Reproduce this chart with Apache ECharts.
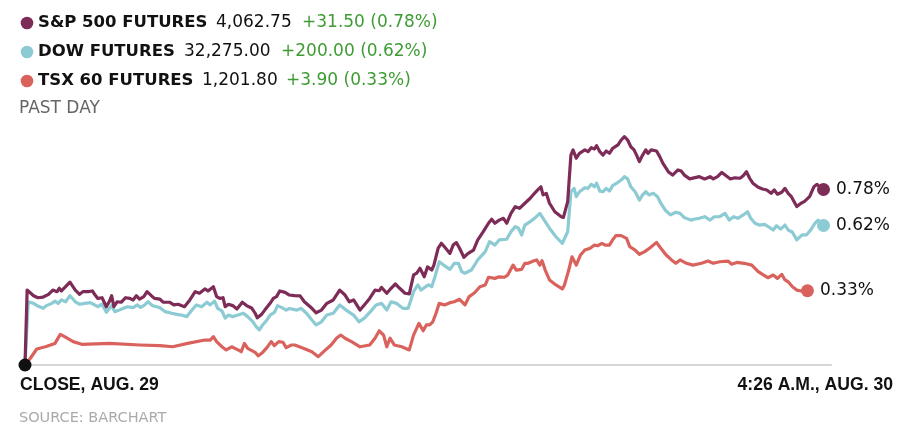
<!DOCTYPE html>
<html>
<head>
<meta charset="utf-8">
<script src="https://cdn.jsdelivr.net/npm/echarts@6/dist/echarts.min.js"></script>
<style>
  html, body { margin: 0; padding: 0; background: #fff; }
  #chart { width: 918px; height: 432px; }
</style>
</head>
<body>
<div id="chart"></div>
<script>
// legend rows
var names = ['S&P 500 FUTURES', 'DOW FUTURES', 'TSX 60 FUTURES'];
var prices = ['4,062.75', '32,275.00', '1,201.80'];
var changes = ['+31.50 (0.78%)', '+200.00 (0.62%)', '+3.90 (0.33%)'];
var colors = ['#7d2b57', '#8ccbd3', '#d9625d'];

var startLabel = 'CLOSE, AUG. 29';
var endLabel = '4:26 A.M., AUG. 30';

// [minutes after close, % change]
var spx = [[0,0],[2,0.333],[8,0.308],[12,0.299],[17,0.302],[22,0.314],[26,0.333],[30,0.326],[32,0.341],[34,0.329],[37,0.344],[42,0.368],[47,0.333],[51,0.314],[54,0.326],[59,0.326],[63,0.329],[65,0.314],[68,0.296],[72,0.299],[76,0.259],[79,0.284],[81,0.308],[83,0.259],[86,0.281],[90,0.279],[94,0.299],[98,0.296],[101,0.289],[104,0.308],[107,0.293],[111,0.304],[114,0.326],[118,0.308],[121,0.296],[126,0.293],[129,0.279],[135,0.279],[139,0.267],[143,0.270],[149,0.259],[154,0.289],[159,0.326],[163,0.319],[168,0.338],[171,0.329],[176,0.348],[179,0.304],[182,0.296],[185,0.299],[187,0.259],[190,0.270],[194,0.264],[198,0.249],[203,0.279],[207,0.264],[212,0.252],[215,0.230],[217,0.210],[221,0.225],[224,0.244],[229,0.274],[232,0.296],[235,0.304],[238,0.329],[243,0.323],[247,0.311],[252,0.308],[257,0.307],[261,0.281],[268,0.252],[272,0.232],[277,0.244],[282,0.274],[288,0.289],[294,0.333],[299,0.311],[303,0.281],[307,0.289],[313,0.244],[317,0.267],[322,0.296],[327,0.333],[331,0.330],[333,0.345],[338,0.319],[342,0.341],[346,0.360],[350,0.341],[355,0.319],[359,0.316],[363,0.400],[366,0.408],[369,0.430],[373,0.392],[376,0.436],[380,0.422],[382,0.444],[386,0.519],[389,0.541],[393,0.519],[397,0.496],[400,0.533],[403,0.544],[406,0.519],[410,0.479],[414,0.496],[419,0.511],[423,0.556],[428,0.592],[433,0.630],[436,0.648],[439,0.630],[443,0.644],[447,0.652],[450,0.630],[454,0.674],[458,0.704],[462,0.696],[467,0.719],[472,0.741],[476,0.763],[479,0.778],[482,0.792],[484,0.756],[487,0.763],[490,0.719],[495,0.681],[501,0.659],[503,0.656],[507,0.726],[510,0.933],[512,0.956],[515,0.919],[518,0.941],[523,0.956],[526,0.948],[529,0.966],[532,0.960],[534,0.975],[537,0.948],[540,0.933],[543,0.951],[546,0.941],[549,0.963],[554,0.978],[557,1.000],[560,1.015],[563,1.000],[566,0.970],[569,0.956],[572,0.926],[574,0.904],[577,0.933],[580,0.956],[582,0.941],[585,0.956],[590,0.951],[593,0.926],[596,0.896],[601,0.859],[605,0.844],[610,0.867],[613,0.862],[616,0.844],[621,0.827],[626,0.833],[630,0.837],[635,0.827],[640,0.837],[643,0.827],[647,0.837],[651,0.856],[655,0.841],[659,0.827],[663,0.832],[668,0.830],[671,0.841],[674,0.859],[677,0.830],[680,0.808],[685,0.790],[689,0.782],[693,0.778],[697,0.763],[700,0.778],[703,0.759],[707,0.768],[710,0.785],[713,0.763],[716,0.748],[721,0.704],[725,0.719],[728,0.726],[733,0.748],[737,0.792],[740,0.803],[744,0.785],[746,0.78]];

var dow = [[0,0],[3,0.281],[8,0.274],[12,0.262],[17,0.252],[20,0.264],[25,0.274],[28,0.284],[31,0.274],[34,0.289],[38,0.281],[42,0.308],[47,0.281],[51,0.270],[56,0.274],[61,0.277],[65,0.267],[68,0.259],[72,0.270],[76,0.234],[79,0.252],[81,0.264],[84,0.237],[88,0.244],[92,0.252],[96,0.259],[101,0.255],[105,0.267],[108,0.256],[111,0.264],[115,0.281],[119,0.264],[123,0.259],[126,0.255],[131,0.237],[137,0.230],[142,0.225],[146,0.222],[151,0.215],[156,0.244],[160,0.267],[165,0.259],[170,0.279],[173,0.267],[177,0.284],[180,0.252],[184,0.240],[187,0.208],[190,0.222],[194,0.215],[199,0.222],[204,0.230],[208,0.215],[213,0.192],[216,0.170],[219,0.156],[222,0.178],[226,0.200],[229,0.222],[233,0.234],[236,0.264],[240,0.255],[244,0.244],[247,0.251],[254,0.244],[258,0.252],[263,0.230],[268,0.200],[272,0.178],[277,0.192],[282,0.222],[288,0.230],[294,0.267],[300,0.244],[307,0.222],[312,0.192],[317,0.208],[324,0.244],[328,0.267],[333,0.274],[338,0.244],[342,0.281],[347,0.274],[353,0.252],[358,0.252],[363,0.326],[367,0.356],[370,0.333],[374,0.347],[377,0.356],[380,0.348],[383,0.392],[387,0.459],[391,0.444],[397,0.425],[401,0.452],[405,0.452],[408,0.415],[411,0.408],[417,0.422],[423,0.467],[430,0.504],[434,0.548],[439,0.533],[443,0.556],[450,0.559],[454,0.592],[458,0.615],[461,0.608],[464,0.578],[467,0.622],[472,0.637],[476,0.652],[481,0.674],[486,0.637],[490,0.608],[496,0.570],[502,0.541],[507,0.592],[510,0.770],[513,0.785],[515,0.748],[518,0.770],[523,0.788],[526,0.785],[529,0.803],[532,0.792],[534,0.808],[537,0.773],[540,0.770],[543,0.785],[546,0.773],[549,0.797],[554,0.812],[557,0.822],[560,0.837],[563,0.827],[566,0.792],[570,0.770],[574,0.733],[577,0.756],[580,0.770],[583,0.756],[587,0.763],[591,0.748],[594,0.719],[598,0.689],[603,0.667],[608,0.679],[612,0.674],[616,0.655],[622,0.644],[626,0.649],[630,0.652],[635,0.659],[640,0.644],[644,0.659],[649,0.659],[654,0.674],[658,0.644],[662,0.659],[666,0.652],[671,0.667],[675,0.681],[678,0.652],[682,0.630],[686,0.622],[691,0.625],[696,0.610],[699,0.600],[702,0.619],[706,0.604],[710,0.622],[713,0.600],[717,0.590],[721,0.556],[726,0.578],[730,0.578],[734,0.600],[738,0.630],[741,0.644],[746,0.62]];

var tsx = [[0,0],[5,0.030],[11,0.071],[19,0.081],[28,0.096],[33,0.136],[37,0.126],[45,0.104],[53,0.092],[79,0.096],[107,0.089],[126,0.086],[138,0.081],[152,0.096],[168,0.111],[173,0.111],[176,0.126],[179,0.104],[184,0.081],[188,0.067],[193,0.081],[199,0.067],[202,0.059],[205,0.096],[208,0.074],[215,0.056],[218,0.041],[222,0.056],[226,0.077],[230,0.104],[233,0.086],[237,0.104],[241,0.101],[244,0.077],[249,0.089],[252,0.089],[260,0.074],[268,0.059],[274,0.037],[280,0.064],[286,0.089],[291,0.119],[295,0.133],[299,0.119],[305,0.104],[313,0.081],[322,0.089],[327,0.119],[331,0.152],[335,0.133],[338,0.081],[341,0.119],[345,0.089],[352,0.081],[359,0.067],[363,0.133],[368,0.185],[372,0.152],[375,0.178],[378,0.178],[381,0.192],[384,0.230],[387,0.274],[392,0.267],[397,0.277],[401,0.281],[406,0.292],[411,0.267],[415,0.304],[420,0.321],[425,0.348],[430,0.356],[433,0.390],[439,0.385],[443,0.392],[448,0.390],[451,0.400],[456,0.444],[459,0.422],[464,0.425],[467,0.452],[470,0.452],[475,0.462],[478,0.467],[481,0.444],[483,0.464],[486,0.422],[490,0.378],[496,0.356],[502,0.338],[504,0.356],[508,0.422],[511,0.481],[515,0.444],[519,0.489],[523,0.511],[528,0.519],[532,0.533],[535,0.530],[539,0.541],[542,0.533],[546,0.533],[549,0.556],[552,0.575],[557,0.575],[562,0.563],[565,0.526],[570,0.511],[574,0.492],[579,0.504],[584,0.521],[590,0.545],[594,0.519],[599,0.489],[604,0.467],[608,0.452],[612,0.467],[618,0.452],[624,0.444],[632,0.452],[638,0.462],[643,0.452],[649,0.459],[657,0.462],[660,0.448],[665,0.456],[672,0.452],[679,0.444],[685,0.415],[689,0.403],[694,0.388],[699,0.400],[703,0.385],[707,0.403],[710,0.378],[713,0.370],[717,0.348],[721,0.333],[725,0.329],[728,0.326],[731,0.33]];

var seriesData = [spx, dow, tsx];

var BOLD = '"Liberation Sans", Arial, sans-serif';
var REG = '"DejaVu Sans", Verdana, sans-serif';

var chart = echarts.init(document.getElementById('chart'));

// legend placement
var rowY = [23, 52, 81];
var priceX = [216, 184, 202];
var changeX = [302, 281, 286];

var graphic = [];
for (var i = 0; i < names.length; i++) {
    graphic.push({
        type: 'circle', shape: { cx: 27, cy: rowY[i], r: 6.3 },
        style: { fill: colors[i] }
    });
    graphic.push({
        type: 'text', x: 38, y: rowY[i],
        style: { text: names[i], fontFamily: REG, fontWeight: 'bold', fontSize: 16.5, fill: '#111', verticalAlign: 'middle' }
    });
    graphic.push({
        type: 'text', x: priceX[i], y: rowY[i],
        style: { text: prices[i], fontFamily: REG, fontSize: 17, fill: '#111', verticalAlign: 'middle' }
    });
    graphic.push({
        type: 'text', x: changeX[i], y: rowY[i],
        style: { text: changes[i], fontFamily: REG, fontSize: 17, fill: '#3f9c35', verticalAlign: 'middle' }
    });
}
graphic.push({
    type: 'text', x: 19, y: 109,
    style: { text: 'PAST DAY', fontFamily: REG, fontSize: 17, fill: '#666', verticalAlign: 'middle' }
});
graphic.push({
    type: 'text', x: 20, y: 385,
    style: { text: startLabel, fontFamily: BOLD, fontWeight: 'bold', fontSize: 17.6, fill: '#111', verticalAlign: 'middle' }
});
graphic.push({
    type: 'text', x: 893, y: 385,
    style: { text: endLabel, fontFamily: BOLD, fontWeight: 'bold', fontSize: 17.6, fill: '#111', align: 'right', verticalAlign: 'middle' }
});
graphic.push({
    type: 'text', x: 19, y: 418,
    style: { text: 'SOURCE: BARCHART', fontFamily: REG, fontSize: 14.5, fill: '#aaa', verticalAlign: 'middle' }
});

var series = [];
// draw TSX first, S&P last (on top)
[2, 1, 0].forEach(function (k) {
    series.push({
        type: 'line',
        data: seriesData[k],
        showSymbol: false,
        symbol: 'none',
        lineStyle: { color: colors[k], width: 3.2, join: 'round', cap: 'round' },
        z: 2 + (2 - k)
    });
});
series.push({
    type: 'scatter',
    clip: false,
    symbolSize: 13,
    z: 10,
    data: seriesData.map(function (d, k) {
        return { value: d[d.length - 1], itemStyle: { color: colors[k], opacity: 1 } };
    }),
    label: {
        show: true,
        position: 'right',
        distance: 6,
        fontFamily: REG,
        fontSize: 17,
        color: '#111',
        formatter: function (p) { return p.value[1].toFixed(2) + '%'; }
    }
});
series.push({
    type: 'scatter',
    clip: false,
    symbolSize: 13,
    z: 11,
    itemStyle: { color: '#111', opacity: 1 },
    data: [spx[0]]
});

chart.setOption({
    animation: false,
    grid: { left: 25, right: 87, top: 131, bottom: 67 },
    xAxis: {
        type: 'value',
        min: 0,
        max: 753,
        axisLine: { show: true, lineStyle: { color: '#d6d6d6', width: 2 } },
        axisTick: { show: false },
        axisLabel: { show: false },
        splitLine: { show: false }
    },
    yAxis: {
        type: 'value',
        min: 0,
        max: 1.04,
        show: false
    },
    graphic: graphic,
    series: series
});
</script>
</body>
</html>
